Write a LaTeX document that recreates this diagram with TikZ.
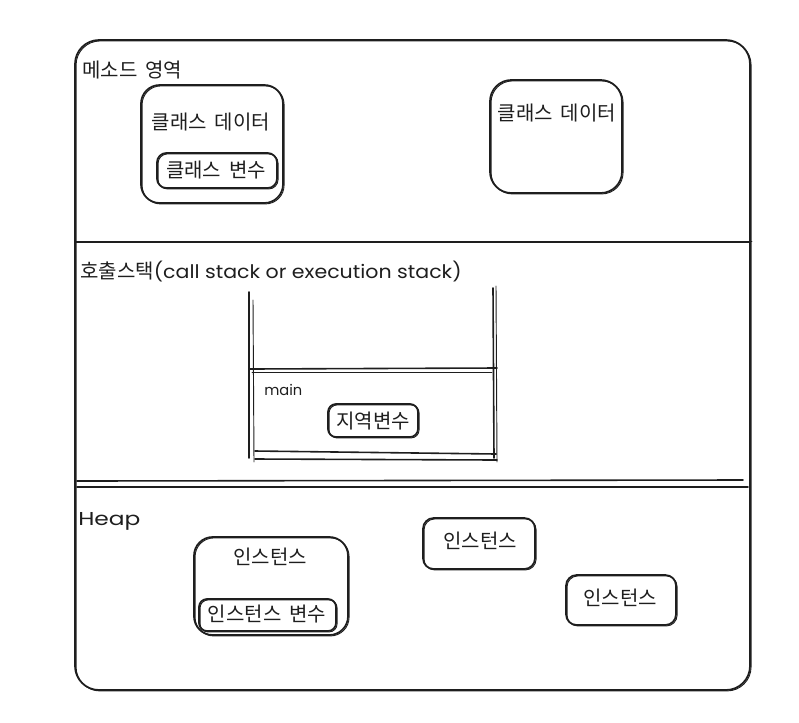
\documentclass[tikz,border=0pt]{standalone}
\usepackage{fontspec}
\usepackage{graphicx}
\setmainfont{Noto Sans CJK KR}
\newfontfamily\latinhand{Poppins}
\usetikzlibrary{fit}
\definecolor{ink}{HTML}{1E1E1E}
\newcommand{\wsp}{\hspace{0.4em}}
\tikzset{
  sk/.style={draw=ink, line width=1.3pt, rounded corners=#1, inner sep=0pt,
    postaction={draw=ink, line width=0.7pt, transform canvas={shift={(0.8pt,-0.7pt)}}}},
  sk/.default=10pt,
  txt/.style={text=ink, inner sep=0pt, font=\fontsize{15pt}{17pt}\selectfont},
  ln/.style={draw=ink, line width=1.2pt, line cap=round},
  ln2/.style={draw=ink, line width=0.7pt, line cap=round},
}
\begin{document}
\begin{tikzpicture}[x=0.75pt,y=-0.75pt]
\useasboundingbox (0,0) rectangle (799,722);
% outer container
\node[sk=18pt, fit={(75,40) (750,690)}] (outer) {};
% dividers
\draw[ln] (75,242) -- (750,242);
\draw[ln2] (600,241) -- (752,241);
\draw[ln] (77,481) -- (743,480);
\draw[ln] (77,487) -- (748,487);

% method area
\node[txt, anchor=west] (method) at (82,70) {메소드\wsp 영역};
\node[sk=14pt, fit={(141,85) (283,203)}] (cd1) {};
\node[txt] (cd1t) at (211,122) {클래스\wsp 데이터};
\node[sk=7pt, fit={(157,153) (277,188)}] (cv) {};
\node[txt] (cvt) at (216,170) {클래스\wsp 변수};
\node[sk=16pt, fit={(490,80) (622,193)}] (cd2) {};
\node[txt] (cd2t) at (557,113) {클래스\wsp 데이터};

% call stack
\node[txt, anchor=west] (stack) at (80,272) {호출스택\scalebox{1.1}[1]{\latinhand\fontsize{14pt}{17pt}\selectfont (call stack or execution stack)}};
\draw[ln] (249,292) -- (249,458);
\draw[ln2] (253,300) -- (254,462);
\draw[ln] (493,288) -- (494,458);
\draw[ln2] (496,286) -- (497,462);
\draw[ln] (250,369) -- (497,368);
\draw[ln2] (252,372) -- (492,372);
\draw[ln] (255,451) -- (496,454);
\draw[ln] (255,459) -- (497,460);
\node[txt, anchor=west, font=\latinhand\fontsize{11pt}{12pt}\selectfont] (main) at (264,390) {main};
\node[sk=6pt, fit={(328,404) (418,437)}] (lv) {};
\node[txt] (lvt) at (373,421) {지역변수};

% heap
\node[txt, anchor=west] (heap) at (78,521) {\scalebox{1.25}[1]{\latinhand\fontsize{14pt}{15pt}\selectfont Heap}};
\node[sk=14pt, fit={(194,537) (348,635)}] (in1) {};
\node[txt] (in1t) at (270,557) {인스턴스};
\node[sk=6pt, fit={(199,599) (336,631)}] (iv) {};
\node[txt] (ivt) at (267,614) {인스턴스\wsp 변수};
\node[sk=8pt, fit={(423,518) (535,569)}] (in2) {};
\node[txt] (in2t) at (480,541) {인스턴스};
\node[sk=8pt, fit={(566,575) (676,625)}] (in3) {};
\node[txt] (in3t) at (620,598) {인스턴스};
\end{tikzpicture}
\end{document}
